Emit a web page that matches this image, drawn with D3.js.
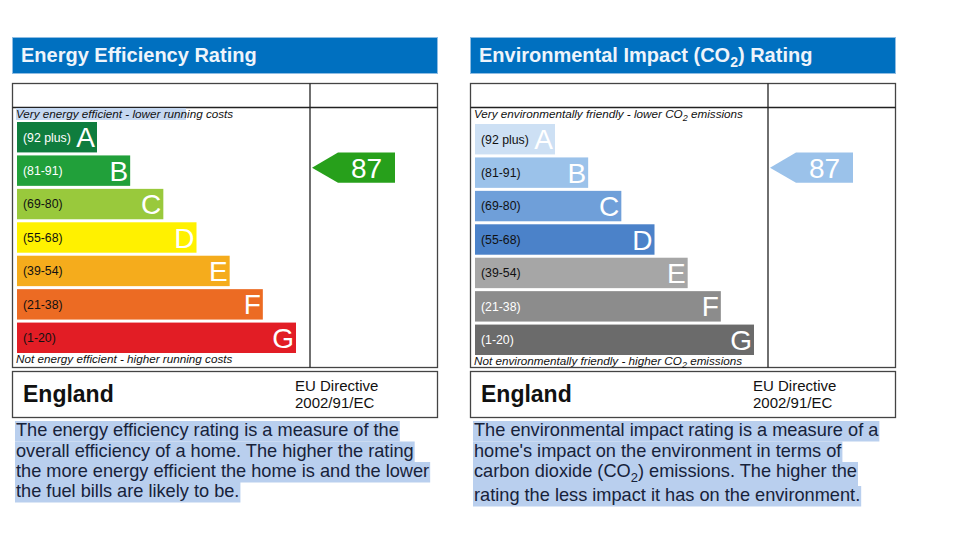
<!DOCTYPE html>
<html><head><meta charset="utf-8">
<script src="https://cdn.jsdelivr.net/npm/d3@7"></script>
<style>
html,body{margin:0;padding:0;background:#fff;}
svg{display:block;font-family:"Liberation Sans",Arial,sans-serif;}
</style></head>
<body><svg id="c" width="953" height="547"></svg>
<script>
// ---- data ----
const bands = ["A","B","C","D","E","F","G"];
const ranges = ["(92 plus)","(81-91)","(69-80)","(55-68)","(39-54)","(21-38)","(1-20)"];
const bandMin = [92,81,69,55,39,21,1];
const energyColors = ["#0f7d3e","#21a03a","#99c93c","#fff100","#f5ac1c","#ec6b23","#e21d25"];
const energyLabelColors = ["#fff","#fff","#111","#111","#111","#111","#111"];
const envColors = ["#cde0f4","#9bc2ea","#6f9fd9","#4b82c9","#a6a6a6","#8c8c8c","#6b6b6b"];
const envLabelColors = ["#111","#111","#111","#111","#111","#fff","#fff"];
const energyRating = 87;
const envRating = 87;
const energyArrowColor = "#27a01b";
const envArrowColor = "#9bc2ea";
const energyText = ["The energy efficiency rating is a measure of the",
  "overall efficiency of a home. The higher the rating",
  "the more energy efficient the home is and the lower",
  "the fuel bills are likely to be."];
const envText = [["The environmental impact rating is a measure of a"],
  ["home's impact on the environment in terms of"],
  ["carbon dioxide (CO","2",") emissions. The higher the"],
  ["rating the less impact it has on the environment."]];

const svg = d3.select("#c");

function panel(opt){
  const g = svg.append("g").attr("transform",`translate(${opt.x0},0)`);
  const W = 425, div = opt.div;
  // title bar
  g.append("rect").attr("x",0.5).attr("y",37.5).attr("width",W).attr("height",36)
    .attr("fill","#0070c0").attr("stroke","#8fbde3").attr("stroke-width",1);
  const t = g.append("text").attr("x",9).attr("y",62).attr("fill","#eef4fb")
    .attr("font-size",20).attr("font-weight","bold");
  opt.title.forEach((s,i)=>{
    const ts = t.append("tspan").text(s);
    if(i===1){ts.attr("font-size",14).attr("dy",5);}
    if(i===2){ts.attr("dy",-5);}
  });
  // table
  g.append("rect").attr("x",0.5).attr("y",83.5).attr("width",W).attr("height",284)
    .attr("fill","none").attr("stroke","#444").attr("stroke-width",1.3);
  g.append("line").attr("x1",0.5).attr("x2",W+0.5).attr("y1",107.5).attr("y2",107.5)
    .attr("stroke","#222").attr("stroke-width",1.3);
  g.append("line").attr("x1",div).attr("x2",div).attr("y1",83.5).attr("y2",367.5)
    .attr("stroke","#222").attr("stroke-width",1.3);
  if(opt.topHL){
    g.append("rect").attr("x",4).attr("y",108).attr("width",opt.topHL).attr("height",12).attr("fill","#c5d8f1");
  }
  const top = g.append("text").attr("x",4).attr("y",118).attr("font-size",11.7)
    .attr("font-style","italic").attr("fill","#111");
  opt.topText.forEach((s,i)=>{
    const ts = top.append("tspan").text(s);
    if(i===1) ts.attr("font-size",9).attr("dy",3);
    if(i===2) ts.attr("dy",-3);
  });
  const bot = g.append("text").attr("x",4).attr("y",opt.botY).attr("font-size",11.7)
    .attr("font-style","italic").attr("fill","#111");
  opt.botText.forEach((s,i)=>{
    const ts = bot.append("tspan").text(s);
    if(i===1) ts.attr("font-size",9).attr("dy",3);
    if(i===2) ts.attr("dy",-3);
  });
  // scales
  const y = d3.scaleBand().domain(bands).range([opt.barTop, opt.barTop+231]).paddingInner(0.09).paddingOuter(0);
  const w = d3.scaleLinear().domain([0,bands.length-1]).range([80,279]);
  const bx = 5;
  const bars = g.selectAll("g.bar").data(bands).join("g").attr("class","bar")
    .attr("transform",d=>`translate(${bx},${y(d)})`);
  bars.append("rect").attr("width",(d,i)=>w(i)).attr("height",y.bandwidth())
    .attr("fill",(d,i)=>opt.colors[i]);
  bars.append("text").attr("x",6).attr("y",y.bandwidth()/2).attr("dy","0.36em")
    .attr("font-size",12.3).attr("fill",(d,i)=>opt.labelColors[i]).text((d,i)=>ranges[i]);
  bars.append("text").attr("x",(d,i)=>w(i)-2).attr("y",y.bandwidth()/2).attr("dy","0.36em")
    .attr("text-anchor","end").attr("font-size",28).attr("fill","#fff")
    .text(d=>d);
  // arrow
  const bi = bandMin.findIndex(m=>opt.rating>=m);
  const ay = y(bands[bi]) + opt.arrowOffset;
  const ah = y.bandwidth();
  const ax = div + 2, aw = 83, tipW = 26;
  const pts = [[ax,ay+ah/2],[ax+tipW,ay],[ax+aw,ay],[ax+aw,ay+ah],[ax+tipW,ay+ah]];
  g.append("path").attr("d",d3.line()(pts)+"Z").attr("fill",opt.arrowColor);
  g.append("text").attr("x",ax+tipW+ (aw-tipW)/2).attr("y",ay+ah/2).attr("dy","0.36em")
    .attr("text-anchor","middle").attr("font-size",28).attr("fill","#fff").text(opt.rating);
  // England box
  g.append("rect").attr("x",0.5).attr("y",371.5).attr("width",W).attr("height",46)
    .attr("fill","none").attr("stroke","#444").attr("stroke-width",1.3);
  g.append("text").attr("x",11).attr("y",402).attr("font-size",23).attr("font-weight","bold").attr("fill","#111").text("England");
  g.append("text").attr("x",283).attr("y",391).attr("font-size",15).attr("fill","#111").text("EU Directive");
  g.append("text").attr("x",283).attr("y",408).attr("font-size",15).attr("fill","#111").text("2002/91/EC");
  // paragraph with selection highlight
  const hl = g.append("g"), tx = g.append("g");
  opt.para.forEach((line,i)=>{
    const yb = opt.paraY[i];
    const t = tx.append("text").attr("x",4).attr("y",yb).attr("font-size",18.2).attr("fill","#17223a");
    const parts = Array.isArray(line)?line:[line];
    parts.forEach((s,k)=>{
      const ts = t.append("tspan").text(s);
      if(k===1) ts.attr("font-size",13).attr("dy",5);
      if(k===2) ts.attr("dy",-5);
    });
    const len = t.node().getComputedTextLength();
    hl.append("rect").attr("x",3).attr("y",yb-15).attr("width",len+2)
      .attr("height", (parts.length>1?25:20.5)).attr("fill","#b9cfee");
  });
}

panel({x0:12, div:298, title:["Energy Efficiency Rating"],
  topText:["Very energy efficient - lower running costs"], topHL:170,
  botText:["Not energy efficient - higher running costs"], botY:363,
  barTop:122, colors:energyColors, labelColors:energyLabelColors,
  rating:energyRating, arrowColor:energyArrowColor, arrowOffset:-3,
  para:energyText, paraY:[436,456.5,477,497]});

panel({x0:470, div:298, title:["Environmental Impact (CO","2",") Rating"],
  topText:["Very environmentally friendly - lower CO","2"," emissions"],
  botText:["Not environmentally friendly - higher CO","2"," emissions"], botY:365,
  barTop:124, colors:envColors, labelColors:envLabelColors,
  rating:envRating, arrowColor:envArrowColor, arrowOffset:-5,
  para:envText, paraY:[436,456.5,477,501]});
</script></body></html>
